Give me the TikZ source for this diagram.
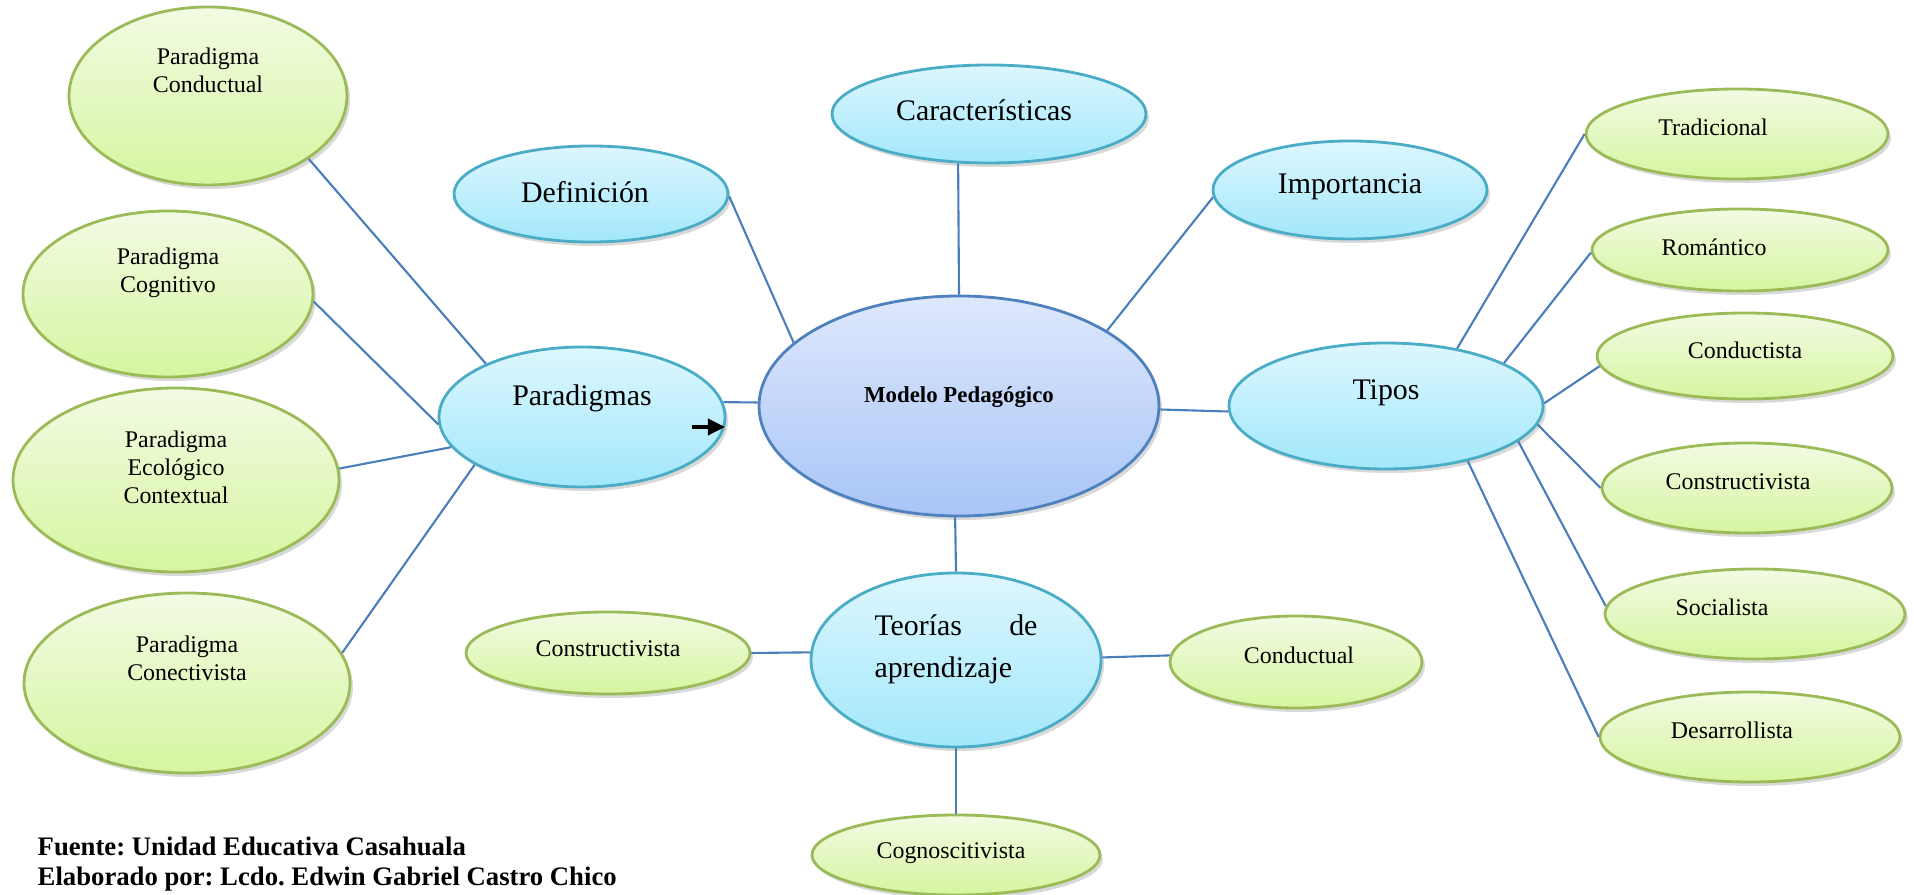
\documentclass[tikz,border=0pt]{standalone}
\usepackage{fontspec}
\setmainfont{Liberation Serif}
\usetikzlibrary{shapes.geometric,shadows,arrows.meta}
\frenchspacing
\definecolor{leafline}{HTML}{9BBB59}
\definecolor{leaftop}{HTML}{F2FBE3}
\definecolor{leafbot}{HTML}{D6F5A0}
\definecolor{topicline}{HTML}{4BACC6}
\definecolor{topictop}{HTML}{DDF7FE}
\definecolor{topicbot}{HTML}{A2E7FB}
\definecolor{coreline}{HTML}{4F81BD}
\definecolor{coretop}{HTML}{DEE8FC}
\definecolor{corebot}{HTML}{A8C5F7}
\definecolor{linkblue}{HTML}{4A7EBB}

\begin{document}
\begin{tikzpicture}[
  link/.style={draw=linkblue, line width=0.6pt},
  bubble/.style={ellipse, inner sep=0pt, line width=0.8pt,
    drop shadow={shadow xshift=0.03cm, shadow yshift=-0.04cm, opacity=0.25, fill=black!60}},
  leaf/.style={bubble, draw=leafline, top color=leaftop, bottom color=leafbot},
  topic/.style={bubble, draw=topicline, top color=topictop, bottom color=topicbot},
  core/.style={bubble, draw=coreline, top color=coretop, bottom color=corebot},
  ltxt/.style={font=\fontsize{6.8}{8}\selectfont, align=center},
  ttxt/.style={font=\fontsize{8.5}{10}\selectfont, align=center}
]
%\draw[step=1cm,gray,very thin] (0,0) grid (19,9); %background grid
\useasboundingbox (0,0) rectangle (19.14,8.95);
%centre
\node[core, minimum width=4cm, minimum height=2.2cm,
  label={[font=\bfseries\fontsize{6.5}{8}\selectfont, yshift=0.09cm]center:Modelo Pedagógico}] (model) at (9.59,4.89) {};
%first level
\node[topic, minimum width=2.74cm, minimum height=0.96cm, label={[ttxt,shift={(-0.06,0.02)}]center:Definición}] (defi) at (5.91,7.01) {};
\node[topic, minimum width=3.14cm, minimum height=0.98cm, label={[ttxt,shift={(-0.05,0.04)}]center:Características}] (carac) at (9.89,7.81) {};
\node[topic, minimum width=2.74cm, minimum height=0.98cm, label={[ttxt,yshift=0.03cm]center:Importancia}] (impor) at (13.50,7.05) {};
\node[topic, minimum width=2.86cm, minimum height=1.4cm, label={[ttxt,yshift=0.19cm]center:Paradigmas}] (parad) at (5.82,4.78) {};
\node[topic, minimum width=3.14cm, minimum height=1.26cm, label={[ttxt,yshift=0.13cm]center:Tipos}] (tipos) at (13.86,4.89) {};
\node[topic, minimum width=2.9cm, minimum height=1.74cm,
  label={[ttxt,font=\fontsize{8.5}{12}\selectfont,align=left,text width=1.63cm,inner sep=0pt,yshift=0.11cm]center:Teorías\hfill de\\aprendizaje}] (teorias) at (9.56,2.35) {};
%paradigms
\node[leaf, minimum width=2.78cm, minimum height=1.78cm, label={[ltxt,yshift=0.26cm]center:Paradigma\\Conductual}] (pcond) at (2.08,7.99) {};
\node[leaf, minimum width=2.9cm, minimum height=1.66cm, label={[ltxt,yshift=0.21cm]center:Paradigma\\Cognitivo}] (pcog) at (1.68,6.01) {};
\node[leaf, minimum width=3.26cm, minimum height=1.84cm, label={[ltxt,yshift=0.13cm]center:Paradigma\\Ecológico\\Contextual}] (peco) at (1.76,4.15) {};
\node[leaf, minimum width=3.26cm, minimum height=1.8cm, label={[ltxt,yshift=0.25cm]center:Paradigma\\Conectivista}] (pcon) at (1.87,2.12) {};
%theories
\node[leaf, minimum width=2.84cm, minimum height=0.82cm, label={[ltxt,yshift=0.04cm]center:Constructivista}] (cleft) at (6.08,2.42) {};
\node[leaf, minimum width=2.52cm, minimum height=0.92cm, label={[ltxt,shift={(0.03,0.07)}]center:Conductual}] (condu) at (12.96,2.33) {};
\node[leaf, minimum width=2.88cm, minimum height=0.8cm, label={[ltxt,shift={(-0.05,0.02)}]center:Cognoscitivista}] (cogno) at (9.56,0.40) {};
%types
\node[leaf, minimum width=3.02cm, minimum height=0.9cm, label={[ltxt,shift={(-0.24,0.07)}]center:Tradicional}] (trad) at (17.37,7.61) {};
\node[leaf, minimum width=2.96cm, minimum height=0.82cm, label={[ltxt,shift={(-0.26,0.03)}]center:Romántico}] (roman) at (17.40,6.45) {};
\node[leaf, minimum width=2.96cm, minimum height=0.86cm, label={[ltxt,yshift=0.06cm]center:Conductista}] (condista) at (17.45,5.39) {};
\node[leaf, minimum width=2.9cm, minimum height=0.9cm, label={[ltxt,shift={(-0.09,0.06)}]center:Constructivista}] (cright) at (17.47,4.07) {};
\node[leaf, minimum width=3cm, minimum height=0.9cm, label={[ltxt,shift={(-0.33,0.07)}]center:Socialista}] (social) at (17.55,2.81) {};
\node[leaf, minimum width=3cm, minimum height=0.9cm, label={[ltxt,shift={(-0.18,0.07)}]center:Desarrollista}] (desarr) at (17.50,1.58) {};
%links
\draw[link] (defi.-1) -- (model.159);
\draw[link] (carac.-122) -- (model.north);
\draw[link] (impor.183) -- (model.27);
\draw[link] (parad.6) -- (model.179);
\draw[link] (model.-1) -- (tipos.182);
\draw[link] (model.-92) -- (teorias.north);
\draw[link] (pcond.-32) -- (parad.151);
\draw[link] (pcog.-3) -- (parad.183);
\draw[link] (peco.4) -- (parad.193);
\draw[link] (pcon.11) -- (parad.204);
\draw[link] (tipos.39) -- (trad.west);
\draw[link] (tipos.20) -- (roman.181);
\draw[link] (tipos.1) -- (condista.184);
\draw[link] (tipos.-7) -- (cright.west);
\draw[link] (tipos.-15) -- (social.177);
\draw[link] (tipos.-34) -- (desarr.west);
\draw[link] (teorias.177) -- (cleft.east);
\draw[link] (teorias.1) -- (condu.177);
\draw[link] (teorias.south) -- (cogno.north);
\draw[line width=1pt, -{Triangle[length=0.17cm,width=0.16cm]}] ([xshift=-0.33cm]parad.-4) -- (parad.-4);
%source
\node[anchor=south west, align=left, inner sep=0pt, font=\bfseries\fontsize{7.6}{8.5}\selectfont] (src) at (0.37,0.03)
  {Fuente: Unidad Educativa Casahuala\\Elaborado por: Lcdo. Edwin Gabriel Castro Chico};
\end{tikzpicture}
\end{document}
